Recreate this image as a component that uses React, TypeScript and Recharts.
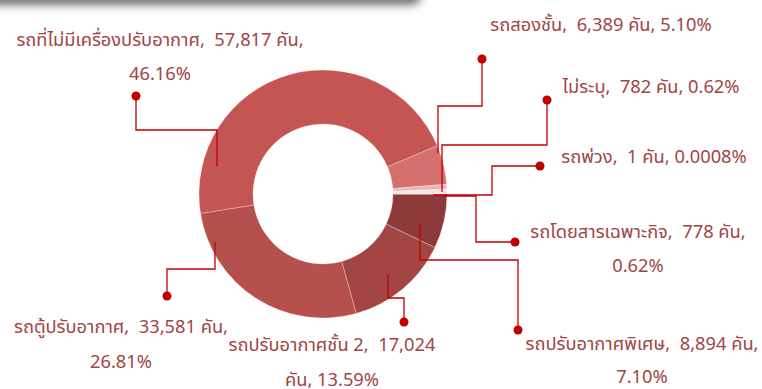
import React from "react";
import { PieChart, Pie, Cell } from "recharts";

const categories = [
  "รถปรับอากาศพิเศษ",
  "รถปรับอากาศชั้น 2",
  "รถตู้ปรับอากาศ",
  "รถที่ไม่มีเครื่องปรับอากาศ",
  "รถสองชั้น",
  "ไม่ระบุ",
  "รถโดยสารเฉพาะกิจ",
  "รถพ่วง",
];
const counts = [8894, 17024, 33581, 57817, 6389, 782, 778, 1];
const percentLabels = ["7.10%", "13.59%", "26.81%", "46.16%", "5.10%", "0.62%", "0.62%", "0.0008%"];
const colors = ["#8C3A3A", "#A34643", "#B5504D", "#C55552", "#D4716E", "#EBB7B6", "#F7E3E3", "#F7E3E3"];

const data = categories.map((name, i) => ({ name, value: counts[i], pct: percentLabels[i] }));

// label layout, relative to the pie centre: leader path points (last is dot), text centre x, baselines, split mode
type Lay = { pts: [number, number][]; tx: number; ty: number[]; split: "none" | "pct" | "unit" };
const layout: Lay[] = [
  { pts: [[97, 29], [97, 66], [195, 66], [195, 136]], tx: 319, ty: [156, 189], split: "pct" },
  { pts: [[65, 80], [65, 104], [81, 104], [81, 128]], tx: 9, ty: [157, 192], split: "unit" },
  { pts: [[-108, 48], [-108, 75], [-156, 75], [-156, 102]], tx: -202, ty: [139, 174], split: "pct" },
  { pts: [[-106, -28], [-106, -64], [-187, -64], [-187, -98]], tx: -163, ty: [-148, -114], split: "pct" },
  { pts: [[115, -41], [115, -88], [159, -88], [159, -135]], tx: 278, ty: [-163], split: "none" },
  { pts: [[119, -2], [119, -49], [224, -49], [224, -94]], tx: 328, ty: [-101], split: "none" },
  { pts: [[120, 2], [153, 2], [153, 48], [192, 48]], tx: 315, ty: [44, 78], split: "pct" },
  { pts: [[110, 1], [169, 1], [169, -28], [217, -28]], tx: 331, ty: [-31], split: "none" },
];

const TEXT = "#A04544";
const LINE = "#C00000";
const FONT = "Tahoma, 'Noto Sans Thai', 'Noto Sans', sans-serif";

const renderLabel = (props: any) => {
  const { cx, cy, index } = props;
  const lay = layout[index];
  if (!lay) return null;
  const d = data[index];
  const num = d.value.toLocaleString("en-US");
  let lines: string[];
  if (lay.split === "none") lines = [`${d.name},  ${num} คัน, ${d.pct}`];
  else if (lay.split === "pct") lines = [`${d.name},  ${num} คัน,`, d.pct];
  else lines = [`${d.name},  ${num}`, `คัน, ${d.pct}`];
  const path = lay.pts.map((p, i) => `${i === 0 ? "M" : "L"}${cx + p[0]},${cy + p[1]}`).join(" ");
  const dot = lay.pts[lay.pts.length - 1];
  return (
    <g key={`lab-${index}`}>
      <path d={path} fill="none" stroke={LINE} strokeWidth={1.3} />
      <circle cx={cx + dot[0]} cy={cy + dot[1]} r={4.5} fill={LINE} />
      {lines.map((t, j) => (
        <text
          key={j}
          x={cx + lay.tx}
          y={cy + lay.ty[j]}
          textAnchor="middle"
          fill={TEXT}
          fontSize={18.3}
          fontFamily={FONT}
          style={{ whiteSpace: "pre" }}
        >
          {t}
        </text>
      ))}
    </g>
  );
};

export default function App() {
  return (
    <div style={{ position: "absolute", left: 0, top: 0, width: 762, height: 389, background: "#fff", overflow: "hidden" }}>
      <div
        style={{
          position: "absolute",
          left: -20,
          top: -30,
          width: 438,
          height: 30,
          background: "#777",
          borderBottomRightRadius: 6,
          boxShadow: "0px 2px 9px 3px rgba(0,0,0,0.55)",
        }}
      />
      <PieChart width={762} height={389} margin={{ top: 0, right: 0, bottom: 0, left: 0 }}>
        <Pie
          data={data}
          dataKey="value"
          nameKey="name"
          cx={323}
          cy={194}
          innerRadius={70}
          outerRadius={124}
          startAngle={0}
          endAngle={-360}
          stroke="rgba(255,255,255,0.35)"
          strokeWidth={0.8}
          label={renderLabel}
          labelLine={false}
          isAnimationActive={false}
        >
          {data.map((d, i) => (
            <Cell key={d.name} fill={colors[i]} />
          ))}
        </Pie>
      </PieChart>
    </div>
  );
}
